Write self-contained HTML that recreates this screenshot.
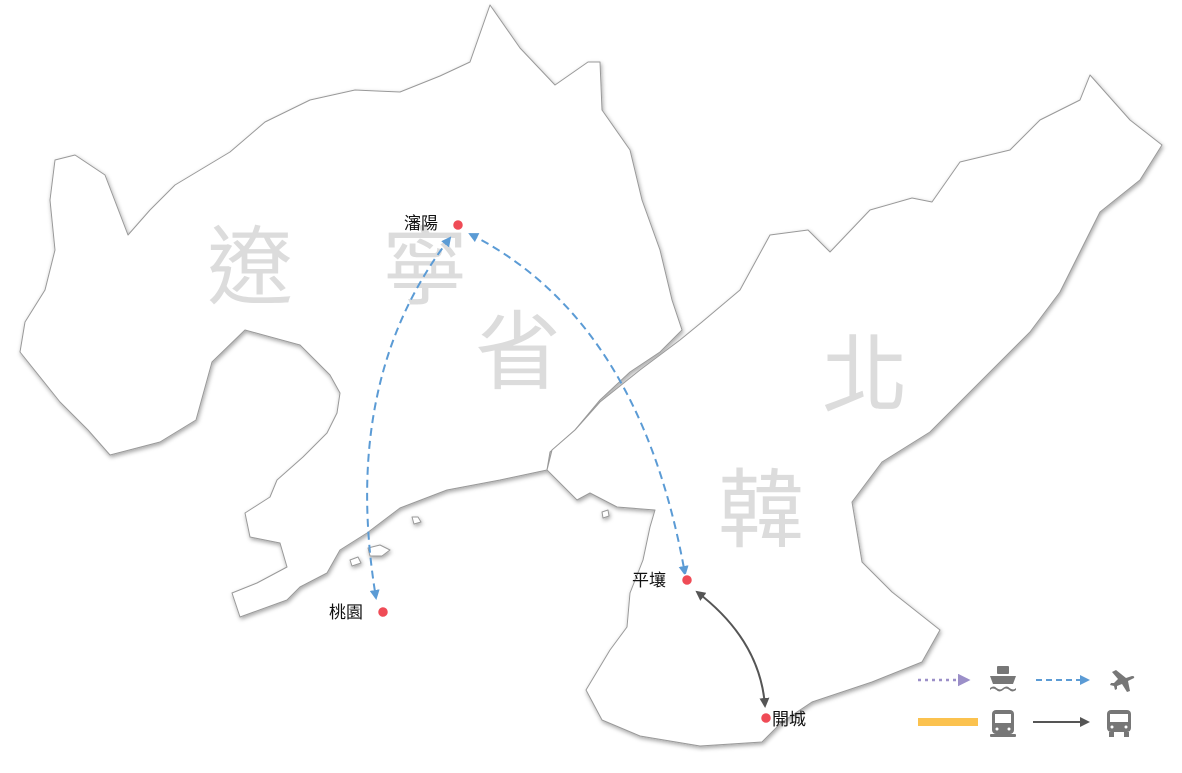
<!DOCTYPE html>
<html><head><meta charset="utf-8"><style>
body{margin:0;background:#fff;}
svg{display:block;font-family:"Liberation Sans","Noto Sans CJK TC",sans-serif;}
</style></head><body>
<svg width="1182" height="773" viewBox="0 0 1182 773">
<defs>
<filter id="sh" x="-5%" y="-5%" width="110%" height="110%">
<feDropShadow dx="1" dy="2" stdDeviation="2" flood-color="#000" flood-opacity="0.35"/>
</filter>
<marker id="ab" viewBox="0 0 10 10" refX="8" refY="5" markerWidth="5" markerHeight="5" orient="auto-start-reverse"><path d="M0,0L10,5L0,10z" fill="#5b9bd5"/></marker>
<marker id="ad" viewBox="0 0 10 10" refX="8" refY="5" markerWidth="5" markerHeight="5" orient="auto-start-reverse"><path d="M0,0L10,5L0,10z" fill="#555"/></marker>
<marker id="ap" viewBox="0 0 10 10" refX="8" refY="5" markerWidth="5" markerHeight="5" orient="auto"><path d="M0,0L10,5L0,10z" fill="#9b8fc8"/></marker>
</defs>
<g filter="url(#sh)" fill="#fff" stroke="#999" stroke-width="1" stroke-linejoin="round">
<path d="M55,160 L75,155 L105,175 L128,235 L150,210 L175,185 L230,152 L265,122 L310,100 L355,90 L400,92 L440,76 L470,62 L490,5 L520,48 L555,85 L588,62 L600,62 L602,110 L630,150 L642,200 L660,250 L672,300 L682,330 L660,352 L630,372 L600,400 L575,430 L550,452 L547,470 L500,480 L447,490 L400,508 L367,533 L340,550 L327,573 L300,587 L287,600 L240,617 L232,593 L257,583 L287,567 L280,543 L250,537 L245,513 L270,497 L277,480 L303,457 L327,433 L337,413 L340,393 L330,375 L300,345 L245,330 L212,362 L196,420 L160,442 L110,455 L88,430 L60,402 L20,352 L25,322 L45,290 L55,250 L50,200 Z"/>
<path d="M547,470 L552,450 L575,430 L600,402 L640,370 L680,340 L702,322 L740,290 L770,235 L808,230 L830,252 L870,210 L912,198 L932,202 L960,162 L1010,150 L1040,120 L1080,100 L1090,75 L1130,120 L1162,145 L1140,180 L1100,212 L1080,252 L1060,292 L1030,332 L980,382 L930,432 L882,462 L852,502 L862,562 L892,592 L940,630 L922,662 L872,682 L812,702 L782,722 L762,742 L700,746 L640,736 L602,720 L586,690 L610,650 L627,627 L630,593 L643,560 L650,527 L655,510 L617,507 L590,493 L577,500 Z"/>
<path d="M368,548 l12,-3 l10,5 l-8,6 l-12,0z"/><path d="M350,560 l8,-3 l3,6 l-9,3z"/><path d="M412,517 l6,0 l3,5 l-7,2z"/><path d="M602,512 l6,-2 l1,6 l-6,2z"/>
</g>
<g fill="#dcdcdc" font-size="86">
<text x="207" y="297">遼</text><text x="382" y="297">寧</text><text x="475" y="382">省</text>
<text x="822" y="405">北</text><text x="718" y="540">韓</text>
</g>
<g fill="none" stroke-width="2">
<path d="M450,238 Q340,380 376,598" stroke="#5b9bd5" stroke-dasharray="8,5" marker-start="url(#ab)" marker-end="url(#ab)"/>
<path d="M470,234 Q640,320 685,574" stroke="#5b9bd5" stroke-dasharray="8,5" marker-start="url(#ab)" marker-end="url(#ab)"/>
<path d="M697,592 Q760,640 765,706" stroke="#555" marker-start="url(#ad)" marker-end="url(#ad)"/>
</g>
<g fill="#ef4b56" stroke="#fff" stroke-width="1.5">
<circle cx="458" cy="225" r="5.5"/><circle cx="383" cy="612" r="5.5"/><circle cx="687" cy="580" r="5.5"/><circle cx="766" cy="718" r="5.5"/>
</g>
<g font-size="17" fill="#111">
<text x="404" y="229">瀋陽</text><text x="329" y="618">桃園</text><text x="632" y="586">平壤</text><text x="772" y="725">開城</text>
</g>
<g>
<line x1="918" y1="680" x2="968" y2="680" stroke="#9b8fc8" stroke-width="2.5" stroke-dasharray="3,4" marker-end="url(#ap)"/>
<line x1="1036" y1="680" x2="1088" y2="680" stroke="#5b9bd5" stroke-width="2" stroke-dasharray="6,4" marker-end="url(#ab)"/>
<rect x="918" y="718" width="60" height="8" fill="#fbc24f"/>
<line x1="1033" y1="722" x2="1088" y2="722" stroke="#555" stroke-width="2" marker-end="url(#ad)"/>
<g fill="#777">
<rect x="997" y="666" width="12" height="8" rx="1"/><path d="M990,676h26l-3,8h-20z"/><path d="M990,688q4,-3 6.5,0q4,3 6.5,0q4,-3 6.5,0q4,3 6.5,0v2q-4,3 -6.5,0q-4,-3 -6.5,0q-4,3 -6.5,0q-4,-3 -6.5,0z"/>
<path d="M1112,672l4,-2l10,8l6,-2q3,0 2,2l-6,3l2,10l-3,1l-5,-8l-5,2l0,3l-2,1l-1,-4l-4,-1l1,-2l3,0l4,-4z"/>
<rect x="992" y="710" width="22" height="24" rx="4"/><rect x="990" y="734" width="26" height="3" rx="1"/>
<rect x="1107" y="710" width="24" height="22" rx="4"/><rect x="1109" y="732" width="5" height="5"/><rect x="1124" y="732" width="5" height="5"/>
</g>
<g fill="#fff"><rect x="995" y="714" width="16" height="9"/><circle cx="997" cy="729" r="1.5"/><circle cx="1009" cy="729" r="1.5"/>
<rect x="1110" y="714" width="18" height="8"/><circle cx="1112" cy="727" r="1.5"/><circle cx="1126" cy="727" r="1.5"/></g>
</g>
</svg>
</body></html>
